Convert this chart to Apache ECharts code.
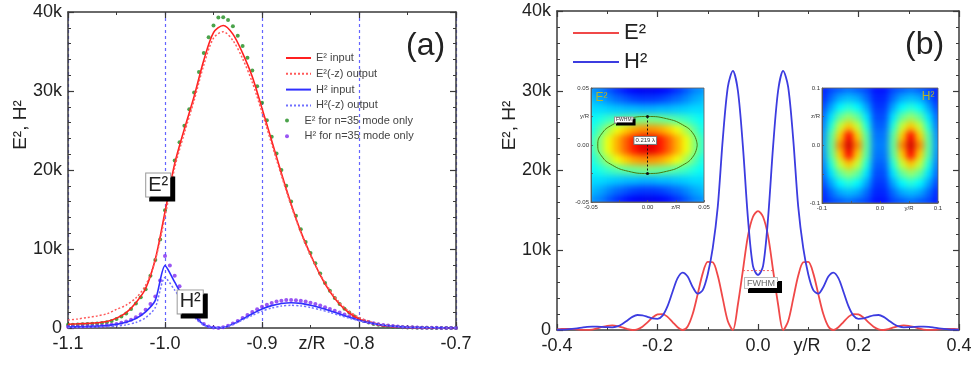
<!DOCTYPE html>
<html><head><meta charset="utf-8">
<script src="https://cdn.jsdelivr.net/npm/echarts@6.0.0/dist/echarts.min.js"></script>
<style>
html,body{margin:0;padding:0;background:#fff}
#c{position:absolute;left:0;top:0;width:978px;height:370px;z-index:2}
.wrap{position:absolute;overflow:hidden;z-index:1}
.heat{position:absolute;left:-4px;top:-4px;filter:blur(3px)}
#wL{left:591px;top:88px;width:113px;height:114px}
#hL{width:121px;height:122px}
#wR{left:822px;top:88px;width:116px;height:115px}
#hR{width:124px;height:123px}
</style>
</head><body>
<div id="wL" class="wrap"><div id="hL" class="heat"></div></div>
<div id="wR" class="wrap"><div id="hR" class="heat"></div></div>
<div id="c"></div>
<script>
// ---------- Panel (a): field along z/R ----------
const zDot = [-1.100,-1.095,-1.090,-1.085,-1.080,-1.075,-1.070,-1.065,-1.060,-1.055,
  -1.050,-1.045,-1.040,-1.035,-1.030,-1.025,-1.020,-1.015,-1.010,-1.005,
  -1.000,-0.995,-0.990,-0.985,-0.980,-0.975,-0.970,-0.965,-0.960,-0.955,
  -0.950,-0.945,-0.940,-0.935,-0.930,-0.925,-0.920,-0.915,-0.910,-0.905,
  -0.900,-0.895,-0.890,-0.885,-0.880,-0.875,-0.870,-0.865,-0.860,-0.855,
  -0.850,-0.845,-0.840,-0.835,-0.830,-0.825,-0.820,-0.815,-0.810,-0.805,
  -0.800,-0.795,-0.790,-0.785,-0.780,-0.775,-0.770,-0.765,-0.760,-0.755,
  -0.750,-0.745,-0.740,-0.735,-0.730,-0.725,-0.720,-0.715,-0.710,-0.705,-0.700];
const e2Dots = [400,420,440,470,500,530,560,620,720,900,
  1150,1450,1850,2400,3100,3900,4900,6600,8600,11200,
  14900,18400,21200,23500,25600,27700,29800,32400,34800,36800,
  38300,39300,39350,39000,38200,37000,35700,34200,32600,30600,
  28500,26300,24200,22100,20000,18000,16000,14200,12500,10900,
  9500,8200,6900,5700,4700,3800,3050,2450,1950,1500,
  1150,900,690,520,400,300,220,160,120,90,
  65,48,35,25,18,12,8,5,3,2,1];
const h2Dots = [150,160,175,190,210,235,265,300,350,420,
  520,650,820,1050,1350,1750,2300,3050,4000,6000,
  9100,7900,6600,5300,4100,3000,1900,1000,500,200,
  60,10,80,280,570,900,1270,1650,2020,2370,
  2680,2950,3170,3340,3460,3530,3550,3520,3450,3340,
  3200,3030,2840,2630,2410,2180,1950,1720,1500,1290,
  1090,910,750,610,490,390,310,240,185,140,
  105,80,60,45,33,24,17,12,8,5,3];
const zLine = [-1.10,-1.09,-1.08,-1.07,-1.06,-1.05,-1.04,-1.03,-1.02,-1.01,
  -1.00,-0.99,-0.98,-0.97,-0.96,-0.95,-0.94,-0.93,-0.92,-0.91,
  -0.90,-0.89,-0.88,-0.87,-0.86,-0.85,-0.84,-0.83,-0.82,-0.81,
  -0.80,-0.79,-0.78,-0.77,-0.76,-0.75,-0.74,-0.73,-0.72,-0.71,-0.70];
const e2In = [480,530,590,660,820,1250,1950,3200,5000,8700,
  14700,20800,25200,29300,33900,37400,38300,37200,34800,31800,
  27800,23700,19600,15700,12200,9300,6700,4600,3000,1900,
  1150,680,400,230,130,70,38,20,10,5,2];
const e2Out = [1000,1150,1320,1520,1800,2350,2900,3800,5400,8600,
  14100,20300,24700,28800,33300,36700,37500,36400,34100,31100,
  27300,23300,19300,15500,12100,9200,6800,4800,3200,2100,
  1350,850,520,320,190,110,65,38,22,12,6];
const h2In = [130,150,185,235,310,460,730,1200,2050,3500,
  7900,5800,3600,1650,430,50,70,500,1130,1800,
  2400,2830,3100,3200,3120,2880,2560,2180,1760,1350,
  990,680,450,280,170,95,55,30,16,8,4];
const h2Out = [60,75,95,125,170,250,400,700,1300,2600,
  6400,4800,3000,1400,360,40,60,450,1010,1600,
  2130,2530,2780,2870,2800,2600,2310,1970,1600,1240,
  920,640,430,270,160,95,55,30,16,8,4];

// ---------- Panel (b): field along y/R ----------
const yB = [-0.40,-0.39,-0.38,-0.37,-0.36,-0.35,-0.34,-0.33,-0.32,-0.31,
  -0.30,-0.29,-0.28,-0.27,-0.26,-0.25,-0.24,-0.23,-0.22,-0.21,
  -0.20,-0.19,-0.18,-0.17,-0.16,-0.15,-0.14,-0.13,-0.12,-0.11,
  -0.10,-0.09,-0.08,-0.07,-0.06,-0.05,-0.04,-0.03,-0.02,-0.01,
  0.00,0.01,0.02,0.03,0.04,0.05,0.06,0.07,0.08,0.09,
  0.10,0.11,0.12,0.13,0.14,0.15,0.16,0.17,0.18,0.19,
  0.20,0.21,0.22,0.23,0.24,0.25,0.26,0.27,0.28,0.29,
  0.30,0.31,0.32,0.33,0.34,0.35,0.36,0.37,0.38,0.39,0.40];
const e2B = [90,130,150,130,80,20,5,60,200,380,520,570,500,330,120,0,80,420,950,1550,
  1950,2000,1650,1000,350,0,450,2000,4500,7100,8550,8500,6800,3900,1100,0,3200,7500,11800,14200,
  14900,
  14200,11800,7500,3200,0,1100,3900,6800,8500,8550,7100,4500,2000,450,0,350,1000,1650,2000,1950,
  1550,950,420,80,0,120,330,500,570,520,380,200,60,5,20,80,130,150,130,90];
const h2B = [30,55,90,140,210,300,380,420,420,390,350,340,450,750,1200,1650,1880,1830,1650,1450,
  1400,1800,3000,4800,6500,7200,6700,5400,4550,5000,7000,10300,15500,24000,30500,32500,30000,23000,14000,8000,
  6900,
  8000,14000,23000,30000,32500,30500,24000,15500,10300,7000,5000,4550,5400,6700,7200,6500,4800,3000,1800,1400,
  1450,1650,1830,1880,1650,1200,750,450,340,350,390,420,420,380,300,210,140,90,55,30];
const fwhmB = [[-0.03,7450],[0.03,7450]];

// ---------- Insets (colour maps, 0..1) ----------
const e2Map = [
  [0.27,0.25,0.21,0.17,0.14,0.12,0.11,0.11,0.12,0.14,0.17,0.21,0.25,0.27],
  [0.31,0.29,0.26,0.23,0.21,0.19,0.18,0.18,0.19,0.21,0.23,0.26,0.29,0.31],
  [0.34,0.34,0.33,0.32,0.31,0.31,0.30,0.30,0.31,0.31,0.32,0.33,0.34,0.34],
  [0.37,0.40,0.43,0.45,0.47,0.48,0.49,0.49,0.48,0.47,0.45,0.43,0.40,0.37],
  [0.39,0.46,0.54,0.61,0.67,0.71,0.73,0.73,0.71,0.67,0.61,0.54,0.46,0.39],
  [0.42,0.51,0.61,0.70,0.78,0.85,0.90,0.90,0.85,0.78,0.70,0.61,0.51,0.42],
  [0.42,0.51,0.61,0.70,0.78,0.85,0.90,0.90,0.85,0.78,0.70,0.61,0.51,0.42],
  [0.39,0.46,0.54,0.61,0.67,0.71,0.73,0.73,0.71,0.67,0.61,0.54,0.46,0.39],
  [0.37,0.40,0.43,0.45,0.47,0.48,0.49,0.49,0.48,0.47,0.45,0.43,0.40,0.37],
  [0.34,0.34,0.33,0.32,0.31,0.31,0.30,0.30,0.31,0.31,0.32,0.33,0.34,0.34],
  [0.31,0.29,0.26,0.23,0.21,0.19,0.18,0.18,0.19,0.21,0.23,0.26,0.29,0.31],
  [0.27,0.25,0.21,0.17,0.14,0.12,0.11,0.11,0.12,0.14,0.17,0.21,0.25,0.27]];
const h2Map = [
  [0.15,0.19,0.21,0.23,0.21,0.19,0.14,0.14,0.19,0.21,0.23,0.21,0.19,0.15],
  [0.16,0.23,0.29,0.31,0.29,0.23,0.16,0.16,0.23,0.29,0.31,0.29,0.23,0.16],
  [0.19,0.29,0.37,0.41,0.37,0.29,0.18,0.18,0.29,0.37,0.41,0.37,0.29,0.19],
  [0.22,0.35,0.47,0.52,0.47,0.35,0.20,0.20,0.35,0.47,0.52,0.47,0.35,0.22],
  [0.24,0.41,0.57,0.68,0.57,0.41,0.22,0.22,0.41,0.57,0.68,0.57,0.41,0.24],
  [0.26,0.46,0.67,0.87,0.67,0.46,0.24,0.24,0.46,0.67,0.87,0.67,0.46,0.26],
  [0.27,0.47,0.74,0.92,0.74,0.47,0.25,0.25,0.47,0.74,0.92,0.74,0.47,0.27],
  [0.26,0.46,0.67,0.87,0.67,0.46,0.24,0.24,0.46,0.67,0.87,0.67,0.46,0.26],
  [0.24,0.41,0.57,0.68,0.57,0.41,0.22,0.22,0.41,0.57,0.68,0.57,0.41,0.24],
  [0.22,0.35,0.47,0.52,0.47,0.35,0.20,0.20,0.35,0.47,0.52,0.47,0.35,0.22],
  [0.19,0.29,0.37,0.41,0.37,0.29,0.18,0.18,0.29,0.37,0.41,0.37,0.29,0.19],
  [0.16,0.23,0.29,0.31,0.29,0.23,0.16,0.16,0.23,0.29,0.31,0.29,0.23,0.16],
  [0.15,0.19,0.21,0.23,0.21,0.19,0.14,0.14,0.19,0.21,0.23,0.21,0.19,0.15]];
const ellX = [0.044,0.0407,0.0311,0.0168,0,-0.0168,-0.0311,-0.0407,-0.044,-0.0407,-0.0311,-0.0168,0,0.0168,0.0311,0.0407,0.044];
const ellY = [0,0.0096,0.0177,0.0231,0.025,0.0231,0.0177,0.0096,0,-0.0096,-0.0177,-0.0231,-0.025,-0.0231,-0.0177,-0.0096,0];
const fwhmInset = [[0,0.025],[0,-0.025]];

// ---------- helpers ----------
const pair = (xs, ys) => xs.map((x, i) => [x, ys[i]]);
const grid2d = m => m.flatMap((row, r) => row.map((v, c) => [c, r, v]));
const AX = '#3a3a3a';
const NOFILL = 'rgba(0,0,0,0)';
const JET = ['#00007f','#0000ff','#007fff','#00ffff','#7fff7f','#ffff00','#ff7f00','#ff0000','#7f0000'];

// colour-map insets: each drawn by its own ECharts heatmap
function heatChart(el, map) {
  const ch = echarts.init(document.getElementById(el), null, {renderer: 'canvas'});
  ch.setOption({
    animation: false,
    grid: {left: 0, right: 0, top: 0, bottom: 0, outerBoundsMode: 'none', containLabel: false},
    xAxis: {type: 'category', data: map[0].map((_, i) => i), show: false},
    yAxis: {type: 'category', data: map.map((_, i) => i), inverse: true, show: false},
    visualMap: {show: false, min: 0, max: 1, inRange: {color: JET}},
    series: [{type: 'heatmap', data: grid2d(map), silent: true}]
  });
}
heatChart('hL', e2Map);
heatChart('hR', h2Map);

function mainX(grid, min, max, interval, top, fmt, extra) {
  return Object.assign({
    gridIndex: grid, type: 'value', min, max, interval, position: top ? 'top' : 'bottom',
    nameMoveOverlap: false,
    axisLine: {show: true, onZero: false, lineStyle: {color: AX, width: 1.5}},
    axisTick: {show: true, inside: true, length: 6, lineStyle: {color: AX, width: 1.2}},
    minorTick: {show: true, splitNumber: 2, length: 3, lineStyle: {color: AX, width: 1}},
    axisLabel: {show: !top, fontSize: 18, color: '#222', margin: 7, formatter: fmt},
    splitLine: {show: false}
  }, extra || {});
}
function mainY(grid, right, extra) {
  return Object.assign({
    gridIndex: grid, type: 'value', min: 0, max: 40000, interval: 10000, position: right ? 'right' : 'left',
    nameMoveOverlap: false,
    axisLine: {show: true, onZero: false, lineStyle: {color: AX, width: 1.5}},
    axisTick: {show: true, inside: true, length: 6, lineStyle: {color: AX, width: 1.2}},
    minorTick: {show: true, splitNumber: 5, length: 3, lineStyle: {color: AX, width: 1}},
    axisLabel: {show: !right, fontSize: 18, color: '#222', margin: 6,
      formatter: v => v === 0 ? '0' : (v / 1000) + 'k'},
    splitLine: {show: false}
  }, extra || {});
}
const yName = {name: 'E², H²', nameLocation: 'middle', nameRotate: 90, nameGap: 38,
  nameTextStyle: {fontSize: 19, color: '#222', padding: [0, 0, 0, 90]}};
function insetAxis(grid, min, max, interval, map) {
  return {
    gridIndex: grid, type: 'value', min, max, interval,
    axisLine: {show: true, onZero: false, lineStyle: {color: '#555', width: 0.8}},
    axisTick: {show: true, inside: true, length: 2, lineStyle: {color: '#555', width: 0.8}},
    axisLabel: {fontSize: 6, color: '#333', margin: 2,
      formatter: v => map[Math.round(v * 1000)] || ''},
    splitLine: {show: false}
  };
}
const boxLabel = (txt, size, extra) => Object.assign({
  show: true, position: 'inside', formatter: txt, fontSize: size, color: '#222',
  backgroundColor: '#fff', borderColor: '#999', borderWidth: 1, padding: [2, 2, 1, 2],
  shadowColor: '#000', shadowOffsetX: 4, shadowOffsetY: 4, shadowBlur: 0
}, extra || {});
const mp = (coord, label) => ({coord, symbol: 'rect', symbolSize: 1,
  itemStyle: {color: NOFILL}, label});

const series = [];
// panel a
series.push({type: 'line', name: 'E² input', xAxisIndex: 0, yAxisIndex: 0, data: pair(zLine, e2In),
  smooth: 0.3, symbol: 'none', lineStyle: {color: '#ff2020', width: 1.6}, itemStyle: {color: NOFILL},
  markPoint: {silent: true, data: [
    mp([-1.007, 18100], boxLabel('E²', 20)),
    mp([-0.974, 3300], boxLabel('H²', 20))]}});
series.push({type: 'line', name: 'E²(-z) output', xAxisIndex: 0, yAxisIndex: 0, data: pair(zLine, e2Out),
  smooth: 0.3, symbol: 'none', lineStyle: {color: '#ff5a5a', width: 1.5, type: [2, 2]}, itemStyle: {color: NOFILL}});
series.push({type: 'line', name: 'H² input', xAxisIndex: 0, yAxisIndex: 0, data: pair(zLine, h2In),
  smooth: 0.25, symbol: 'none', lineStyle: {color: '#2f2fff', width: 1.6}, itemStyle: {color: NOFILL}});
series.push({type: 'line', name: 'H²(-z) output', xAxisIndex: 0, yAxisIndex: 0, data: pair(zLine, h2Out),
  smooth: 0.25, symbol: 'none', lineStyle: {color: '#7070ff', width: 1.5, type: [2, 2]}, itemStyle: {color: NOFILL}});
series.push({type: 'scatter', name: 'E² for n=35 mode only', xAxisIndex: 0, yAxisIndex: 0,
  data: pair(zDot, e2Dots), symbol: 'circle', symbolSize: 4, itemStyle: {color: '#1e8c1e'}});
series.push({type: 'scatter', name: 'H² for n=35 mode only', xAxisIndex: 0, yAxisIndex: 0,
  data: pair(zDot, h2Dots), symbol: 'circle', symbolSize: 4, itemStyle: {color: '#7f2cf0'}});
// panel b
series.push({type: 'line', name: 'E²', xAxisIndex: 2, yAxisIndex: 2, data: pair(yB, e2B),
  smooth: 0.3, symbol: 'none', lineStyle: {color: '#f04848', width: 1.8}, itemStyle: {color: NOFILL},
  markPoint: {silent: true, data: [
    mp([0.006, 5890], boxLabel('FWHM', 9, {color: '#666', borderColor: '#bbb', padding: [1, 2, 0, 2]}))]}});
series.push({type: 'line', name: 'H²', xAxisIndex: 2, yAxisIndex: 2, data: pair(yB, h2B),
  smooth: 0.3, symbol: 'none', lineStyle: {color: '#3c3ce0', width: 1.8}, itemStyle: {color: NOFILL}});
series.push({type: 'line', xAxisIndex: 2, yAxisIndex: 2, data: fwhmB, symbol: 'none', silent: true,
  lineStyle: {color: '#f06060', width: 1, type: [2, 2]}});
// inset overlays
series.push({type: 'line', xAxisIndex: 4, yAxisIndex: 4, data: pair(ellX, ellY), smooth: true, symbol: 'none',
  silent: true, lineStyle: {color: '#4a7a10', width: 1},
  markPoint: {silent: true, data: [
    mp([-0.046, 0.047], {show: true, position: 'inside', formatter: 'E²', fontSize: 12, color: '#b4b428', align: 'left', verticalAlign: 'top'}),
    mp([-0.021, 0.022], boxLabel('FWHM', 5, {color: '#333', padding: [0, 1, 0, 1], shadowOffsetX: 2, shadowOffsetY: 2})),
    mp([-0.002, 0.004], boxLabel('0.219 λ', 6, {color: '#333', padding: [1, 1, 0, 1], borderColor: '#777', shadowOffsetX: 0, shadowOffsetY: 0}))]}});
series.push({type: 'line', xAxisIndex: 4, yAxisIndex: 4, data: fwhmInset, symbol: 'circle', symbolSize: 3,
  silent: true, lineStyle: {color: '#111', width: 1, type: [2, 2]}, itemStyle: {color: '#111'}});
series.push({type: 'line', xAxisIndex: 5, yAxisIndex: 5, data: [], silent: true,
  markPoint: {silent: true, data: [
    mp([0.094, 0.095], {show: true, position: 'inside', formatter: 'H²', fontSize: 12, color: '#b4b428', align: 'right', verticalAlign: 'top'})]}});

const G = {outerBoundsMode: 'none', containLabel: false};
const option = {
  animation: false,
  backgroundColor: 'transparent',
  textStyle: {fontFamily: 'Liberation Sans, Arial, sans-serif'},
  title: [
    {text: '(a)', left: 406, top: 30, padding: 0, textStyle: {fontSize: 32, fontWeight: 'normal', color: '#222'}},
    {text: '(b)', left: 905, top: 29, padding: 0, textStyle: {fontSize: 32, fontWeight: 'normal', color: '#222'}}
  ],
  legend: [
    {data: ['E² input', 'E²(-z) output', 'H² input', 'H²(-z) output'], orient: 'vertical', left: 285, top: 52,
      itemWidth: 25, itemHeight: 10, itemGap: 3.8, selectedMode: false, padding: 0,
      textStyle: {fontSize: 11, lineHeight: 12, color: '#444'}},
    {data: ['E² for n=35 mode only', 'H² for n=35 mode only'], orient: 'vertical', left: 285, top: 114.5,
      itemWidth: 25, itemHeight: 4, itemGap: 3.8, selectedMode: false, padding: 0,
      textStyle: {fontSize: 11, lineHeight: 12, color: '#444'}},
    {data: ['E²', 'H²'], orient: 'vertical', left: 572, top: 20, itemWidth: 46, itemHeight: 14, itemGap: 3,
      selectedMode: false, padding: 0, textStyle: {fontSize: 22, lineHeight: 26, color: '#222'}}
  ],
  grid: [
    Object.assign({left: 68, top: 12, width: 388, height: 316}, G),
    Object.assign({left: 557, top: 11, width: 402, height: 319}, G),
    Object.assign({left: 591, top: 88, width: 113, height: 114, show: true, borderColor: '#555', borderWidth: 0.8}, G),
    Object.assign({left: 822, top: 88, width: 116, height: 115, show: true, borderColor: '#555', borderWidth: 0.8}, G)
  ],
  xAxis: [
    mainX(0, -1.1, -0.7, 0.1, false, v => v.toFixed(1), {
      splitLine: {show: true, lineStyle: {color: '#6464ff', type: [3, 3], width: 1.2}},
      name: 'z/R', nameLocation: 'middle', nameGap: 7,
      nameTextStyle: {fontSize: 18, color: '#222', padding: [0, 0, 0, 100], verticalAlign: 'top'}}),
    mainX(0, -1.1, -0.7, 0.1, true),
    mainX(1, -0.4, 0.4, 0.2, false, v => v.toFixed(1), {
      name: 'y/R', nameLocation: 'middle', nameGap: 7,
      nameTextStyle: {fontSize: 18, color: '#222', padding: [0, 0, 0, 98], verticalAlign: 'top'}}),
    mainX(1, -0.4, 0.4, 0.2, true),
    insetAxis(2, -0.05, 0.05, 0.025, {'-50': '-0.05', '0': '0.00', '25': 'z/R', '50': '0.05'}),
    insetAxis(3, -0.1, 0.1, 0.05, {'-100': '-0.1', '0': '0.0', '50': 'y/R', '100': '0.1'})
  ],
  yAxis: [
    mainY(0, false, yName),
    mainY(0, true),
    mainY(1, false, yName),
    mainY(1, true),
    insetAxis(2, -0.05, 0.05, 0.025, {'50': '0.05', '25': 'y/R', '0': '0.00', '-50': '-0.05'}),
    insetAxis(3, -0.1, 0.1, 0.05, {'100': '0.1', '50': 'z/R', '0': '0.0', '-100': '-0.1'})
  ],
  series
};
const chart = echarts.init(document.getElementById('c'), null, {renderer: 'canvas'});
chart.setOption(option);
</script></body></html>
